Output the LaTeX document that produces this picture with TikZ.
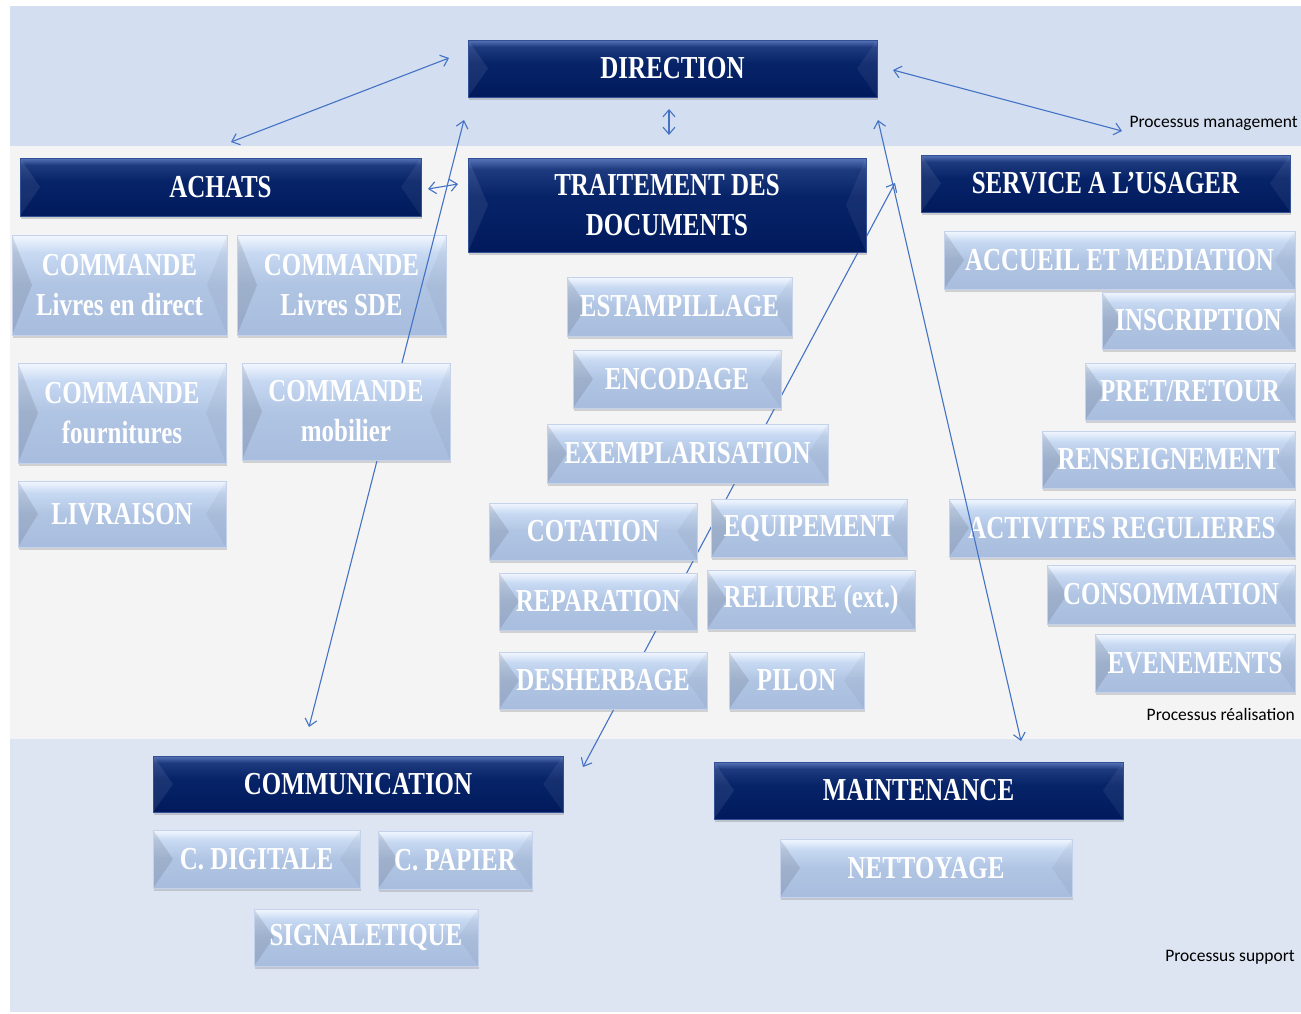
\documentclass[tikz,border=0pt]{standalone}
\usepackage{fontspec}
\newfontfamily\boxserif[FakeStretch=0.78]{Liberation Serif}
\newfontfamily\labsans{Carlito}
\usetikzlibrary{arrows.meta,shadows}
\definecolor{mgmt}{RGB}{211,222,240}
\definecolor{real}{RGB}{244,244,244}
\definecolor{supp}{RGB}{221,228,242}
\definecolor{arrowblue}{RGB}{68,114,196}
\definecolor{darkedge}{RGB}{50,80,150}
\definecolor{lightedge}{RGB}{196,210,236}
\pgfdeclareverticalshading{darkbev}{100bp}{rgb(0bp)=(0,0.10,0.36); rgb(25bp)=(0,0.10,0.36); rgb(55bp)=(0.03,0.14,0.41); rgb(69bp)=(0.12,0.23,0.50); rgb(75bp)=(0.34,0.46,0.72); rgb(100bp)=(0.34,0.46,0.72)}
\pgfdeclareverticalshading{lightbev}{100bp}{rgb(0bp)=(0.66,0.74,0.87); rgb(25bp)=(0.66,0.74,0.87); rgb(50bp)=(0.69,0.77,0.89); rgb(66bp)=(0.78,0.85,0.95); rgb(75bp)=(0.95,0.97,1.0); rgb(100bp)=(0.95,0.97,1.0)}
\newcommand\bevtri[4]{%
  \fill[#1,opacity=#2] (path picture bounding box.north west) -- ([xshift=20pt]path picture bounding box.west) -- (path picture bounding box.south west) -- cycle;
  \fill[#3,opacity=#4] (path picture bounding box.north east) -- ([xshift=-20pt]path picture bounding box.east) -- (path picture bounding box.south east) -- cycle;}
\tikzset{
  boxbase/.style={rectangle, inner sep=0pt, align=center, text=white,
    font={\boxserif\bfseries\fontsize{32}{40}\selectfont}},
  darkbox/.style={boxbase, shade, shading=darkbev, draw=darkedge, line width=0.6pt,
    drop shadow={shadow xshift=1pt, shadow yshift=-3pt, opacity=0.35},
    path picture={\bevtri{white}{0.08}{white}{0.06}}},
  lightbox/.style={boxbase, shade, shading=lightbev, draw=lightedge, line width=0.6pt,
    drop shadow={shadow xshift=1pt, shadow yshift=-3pt, opacity=0.3},
    path picture={\bevtri{black}{0.10}{black}{0.04}}},
  sz/.style 2 args={minimum width=#1pt, minimum height=#2pt},
  conn/.style={draw=arrowblue, line width=1.1pt,
    {Straight Barb[length=7pt,width=12pt]}-{Straight Barb[length=7pt,width=12pt]}},
  lab/.style={inner sep=0pt, text=black, font={\labsans\fontsize{17.5}{20}\selectfont}}
}
\begin{document}
\begin{tikzpicture}[x=1pt,y=-1pt]
\useasboundingbox (0,0) rectangle (1301,1013);
\fill[white] (0,0) rectangle (1301,1013);
% bands
\fill[mgmt] (10,6) rectangle (1301,146);
\fill[real] (10,146) rectangle (1301,739);
\fill[supp] (10,739) rectangle (1301,1012);
\node[lab, anchor=base east] (lmgmt) at (1298,127) {Processus management};
\node[lab, anchor=base east] (lreal) at (1295,720) {Processus réalisation};
\node[lab, anchor=base east] (lsupp) at (1295,961) {Processus support};

% boxes lying under the connectors
\node[lightbox, sz={209}{100}] (cmd2) at (341.5,285) {COMMANDE\\Livres SDE};
\node[lightbox, sz={346}{58}] (activ) at (1122,528) {ACTIVITES REGULIERES};

% connector end points
\coordinate (a1a) at (449,58);   \coordinate (a1b) at (231,142);
\coordinate (a2a) at (669,109);  \coordinate (a2b) at (669,135);
\coordinate (a3a) at (893,70);   \coordinate (a3b) at (1122,131);
\coordinate (a4a) at (428,189);  \coordinate (a4b) at (458,184);
\coordinate (a5a) at (464,120);  \coordinate (a5b) at (309,727);
\coordinate (a6a) at (895,183);  \coordinate (a6b) at (583,767);
\coordinate (a7a) at (878,120);  \coordinate (a7b) at (1021,741);
\draw[conn] (a1a) -- (a1b);
\draw[conn] (a2a) -- (a2b);
\draw[conn] (a3a) -- (a3b);
\draw[conn] (a4a) -- (a4b);
\draw[conn] (a5a) -- (a5b);
\draw[conn] (a6a) -- (a6b);
\draw[conn] (a7a) -- (a7b);

% dark headers
\node[darkbox, sz={409}{57}] (dir) at (672.5,68.5) {DIRECTION};
\node[darkbox, sz={401}{58}] (achats) at (220.5,187) {ACHATS};
\node[darkbox, sz={398}{94}] (trait) at (667,205) {TRAITEMENT DES\\DOCUMENTS};
\node[darkbox, sz={369}{57}] (serv) at (1105.5,183.5) {SERVICE A L’USAGER};
\node[darkbox, sz={410}{56}] (comm) at (358,784) {COMMUNICATION};
\node[darkbox, sz={409}{57}] (maint) at (918.5,790.5) {MAINTENANCE};

% achats
\node[lightbox, sz={215}{100}] (cmd1) at (119.5,285) {COMMANDE\\Livres en direct};
\node[lightbox, sz={208}{100}] (cmd3) at (122,413) {COMMANDE\\fournitures};
\node[lightbox, sz={208}{97}] (cmd4) at (346,411.5) {COMMANDE\\mobilier};
\node[lightbox, sz={208}{66}] (livr) at (122,514) {LIVRAISON};

% traitement
\node[lightbox, sz={225}{59}] (estamp) at (679.5,306.5) {ESTAMPILLAGE};
\node[lightbox, sz={208}{58}] (encod) at (677,379) {ENCODAGE};
\node[lightbox, sz={281}{59}] (exempl) at (687.5,453.5) {EXEMPLARISATION};
\node[lightbox, sz={208}{57}] (cot) at (593,531.5) {COTATION};
\node[lightbox, sz={196}{58}] (equip) at (809,528) {EQUIPEMENT};
\node[lightbox, sz={198}{57}] (repar) at (598,601.5) {REPARATION};
\node[lightbox, sz={208}{59}] (reliure) at (811,599.5) {RELIURE (ext.)};
\node[lightbox, sz={208}{57}] (desherb) at (603,680.5) {DESHERBAGE};
\node[lightbox, sz={135}{57}] (pilon) at (796.5,680.5) {PILON};

% service
\node[lightbox, sz={351}{58}] (accueil) at (1119.5,260) {ACCUEIL ET MEDIATION};
\node[lightbox, sz={193}{57}] (inscr) at (1198.5,320.5) {INSCRIPTION};
\node[lightbox, sz={210}{57}] (pret) at (1190,391.5) {PRET/RETOUR};
\node[lightbox, sz={253}{57}] (rens) at (1168.5,459.5) {RENSEIGNEMENT};
\node[lightbox, sz={248}{59}] (conso) at (1171,594.5) {CONSOMMATION};
\node[lightbox, sz={200}{58}] (evene) at (1195,663) {EVENEMENTS};

% support
\node[lightbox, sz={207}{58}] (cdig) at (256.5,859) {C. DIGITALE};
\node[lightbox, sz={154}{58}] (cpap) at (455,860) {C. PAPIER};
\node[lightbox, sz={224}{57}] (signal) at (366,937.5) {SIGNALETIQUE};
\node[lightbox, sz={292}{58}] (nett) at (926,868) {NETTOYAGE};
\end{tikzpicture}
\end{document}
